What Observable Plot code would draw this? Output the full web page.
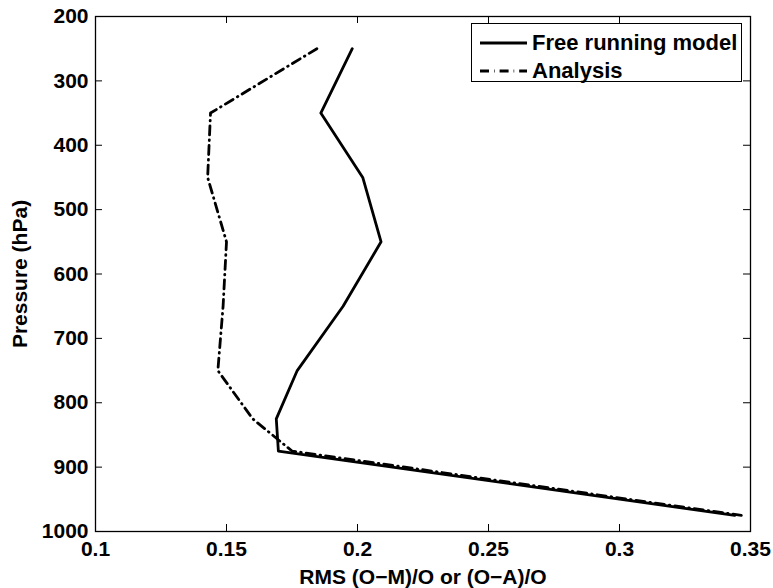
<!DOCTYPE html>
<html>
<head>
<meta charset="utf-8">
<script src="https://cdn.jsdelivr.net/npm/d3@7"></script>
<script src="https://cdn.jsdelivr.net/npm/@observablehq/plot@0.6"></script>
<style>
  html, body { margin: 0; padding: 0; background: #fff; }
  #wrap { position: relative; width: 773px; height: 588px; font-family: "Liberation Sans", Arial, Helvetica, sans-serif; }
  #legend { position: absolute; left: 471px; top: 23px; width: 271px; height: 59px; border: 1.2px solid #000; background: #fff; box-sizing: border-box; }
  .row { position: absolute; left: 8px; height: 28px; display: flex; align-items: center; font-weight: bold; font-size: 22px; color: #000; white-space: nowrap; }
  .row svg { margin-right: 5px; }
</style>
</head>
<body>
<div id="wrap"></div>
<script>
// ---- data ----
const pressure = [250, 350, 450, 550, 650, 750, 825, 875, 975];
const freeModel = [0.198, 0.186, 0.202, 0.209, 0.1945, 0.177, 0.169, 0.1698, 0.344];
const analysis  = [0.1845, 0.1439, 0.1428, 0.150, 0.1487, 0.1467, 0.160, 0.175, 0.3465];
const xTicks = [0.1, 0.15, 0.2, 0.25, 0.3, 0.35];
const yTicks = [200, 300, 400, 500, 600, 700, 800, 900, 1000];
const seriesNames = ["Free running model", "Analysis"];
const xLabel = "RMS (O\u2212M)/O or (O\u2212A)/O";
const yLabel = "Pressure (hPa)";

const modelRows = pressure.map((p, i) => ({p, v: freeModel[i]}));
const analysisRows = pressure.map((p, i) => ({p, v: analysis[i]}));

const W = 773, H = 588;
const mL = 95, mR = 23, mT = 16, mB = 57;
const frameW = W - mL - mR, frameH = H - mT - mB;
const tickLen = 7;
const dash = "9,5,0.6,5";

const chart = Plot.plot({
  width: W,
  height: H,
  marginLeft: mL, marginRight: mR, marginTop: mT, marginBottom: mB,
  style: {fontFamily: "'Liberation Sans', Arial, Helvetica, sans-serif", fontSize: "21px", fontWeight: "bold", color: "#000", background: "#fff"},
  x: {domain: [0.1, 0.35]},
  y: {domain: [200, 1000], reverse: true},
  marks: [
    Plot.axisX({ticks: xTicks, tickSize: 0, tickPadding: 10, tickFormat: d => String(d),
      label: xLabel, labelAnchor: "center", labelArrow: "none", labelOffset: 52}),
    Plot.axisY({ticks: yTicks, tickSize: 0, tickPadding: 7, tickFormat: d => String(d),
      label: yLabel, labelAnchor: "center", labelArrow: "none", labelOffset: 83}),
    Plot.tickX(xTicks, {x: d => d, insetTop: frameH - tickLen, stroke: "#000", strokeWidth: 1}),
    Plot.tickX(xTicks, {x: d => d, insetBottom: frameH - tickLen, stroke: "#000", strokeWidth: 1}),
    Plot.tickY(yTicks, {y: d => d, insetRight: frameW - tickLen, stroke: "#000", strokeWidth: 1}),
    Plot.tickY(yTicks, {y: d => d, insetLeft: frameW - tickLen, stroke: "#000", strokeWidth: 1}),
    Plot.line(modelRows, {x: "v", y: "p", stroke: "#000", strokeWidth: 2.8, curve: "linear"}),
    Plot.line(analysisRows, {x: "v", y: "p", stroke: "#000", strokeWidth: 2.8, strokeDasharray: dash, curve: "linear"}),
    Plot.frame({stroke: "#000", strokeWidth: 1.3})
  ]
});

const wrap = document.getElementById("wrap");
wrap.appendChild(chart);

// legend
const legend = document.createElement("div");
legend.id = "legend";
const styles = [{dash: null}, {dash}];
seriesNames.forEach((name, i) => {
  const row = document.createElement("div");
  row.className = "row";
  row.style.top = (5 + i * 28) + "px";
  const sw = 47;
  const svg = d3.create("svg").attr("width", sw).attr("height", 10);
  const ln = svg.append("line").attr("x1", 0).attr("x2", sw).attr("y1", 5).attr("y2", 5)
    .attr("stroke", "#000").attr("stroke-width", 2.8);
  if (styles[i].dash) ln.attr("stroke-dasharray", styles[i].dash);
  row.appendChild(svg.node());
  const t = document.createElement("span");
  t.textContent = name;
  row.appendChild(t);
  legend.appendChild(row);
});
wrap.appendChild(legend);
</script>
</body>
</html>
